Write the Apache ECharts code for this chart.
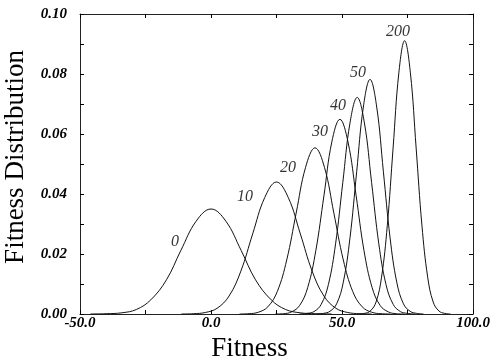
<!DOCTYPE html>
<html>
<head>
<meta charset="utf-8">
<script src="https://cdn.jsdelivr.net/npm/echarts@6/dist/echarts.min.js"></script>
<style>
  html, body { margin: 0; padding: 0; background: #fff; }
  #plot { width: 491px; height: 364px; }
</style>
</head>
<body>
<div id="plot"></div>
<script>
// fitness distributions, one [fitness, density] list per curve
var curve0 = [[-46, 0], [-40, 0.0001], [-34, 0.0004], [-28.5, 0.0015], [-23, 0.0047], [-17, 0.0114], [-11.5, 0.0212], [-5.7, 0.0309], [0, 0.035],
  [5.7, 0.0309], [11.5, 0.0212], [17, 0.0114], [23, 0.0047], [28.5, 0.0015], [34, 0.0004], [40, 0.0001], [46, 0]];
var curve10 = [[-11.3, 0], [-6.7, 0.0001], [-2.2, 0.0005], [2.3, 0.0019], [6.9, 0.006], [11.4, 0.0143], [15.9, 0.0267], [20.5, 0.0388], [25, 0.044],
  [29.5, 0.0388], [34.1, 0.0267], [38.6, 0.0143], [43.1, 0.006], [47.7, 0.0019], [52.2, 0.0005], [56.7, 0.0001], [61.3, 0]];
var curve20 = [[10.9, 0], [14.5, 0.0001], [18.1, 0.0006], [21.7, 0.0024], [25.3, 0.0075], [28.9, 0.018], [32.5, 0.0336], [36.1, 0.0489], [39.7, 0.0554],
  [43.3, 0.0489], [46.9, 0.0336], [50.5, 0.018], [54.1, 0.0075], [57.7, 0.0024], [61.3, 0.0006], [64.9, 0.0001], [68.5, 0]];
var curve30 = [[24.6, 0], [27.7, 0.0001], [30.7, 0.0007], [33.8, 0.0028], [36.9, 0.0088], [40.0, 0.0211], [43.1, 0.0394], [46.1, 0.0573], [49.2, 0.0649],
  [52.3, 0.0573], [55.4, 0.0394], [58.4, 0.0211], [61.5, 0.0088], [64.6, 0.0028], [67.7, 0.0007], [70.7, 0.0001], [73.8, 0]];
var curve40 = [[33.8, 0], [36.55, 0.0002], [39.3, 0.0008], [42.05, 0.0032], [44.8, 0.0098], [47.55, 0.0234], [50.3, 0.0438], [53.05, 0.0637], [55.8, 0.0722],
  [58.55, 0.0637], [61.3, 0.0438], [64.05, 0.0234], [66.8, 0.0098], [69.55, 0.0032], [72.3, 0.0008], [75.05, 0.0002], [77.8, 0]];
var curve50 = [[40.3, 0], [42.85, 0.0002], [45.4, 0.0009], [47.95, 0.0034], [50.5, 0.0106], [53.05, 0.0254], [55.6, 0.0474], [58.15, 0.069], [60.7, 0.0782],
  [63.25, 0.069], [65.8, 0.0474], [68.35, 0.0254], [70.9, 0.0106], [73.45, 0.0034], [76.0, 0.0009], [78.55, 0.0002], [81.1, 0]];
var curve200 = [[56.4, 0], [58.6, 0.0002], [60.8, 0.001], [63.0, 0.004], [65.1, 0.0123], [67.3, 0.0296], [69.5, 0.0553], [71.7, 0.0804], [73.9, 0.0911],
  [76.1, 0.0804], [78.3, 0.0553], [80.5, 0.0296], [82.7, 0.0123], [84.8, 0.004], [87.0, 0.001], [89.2, 0.0002], [91.4, 0]];

// curve labels (generation) and where they sit
var curveNames = ['0', '10', '20', '30', '40', '50', '200'];
var labelX = [-13.7, 13.0, 29.4, 41.6, 48.5, 56.1, 71.4];
var labelY = [0.024, 0.039, 0.0487, 0.0607, 0.0693, 0.0803, 0.094];

var xTicks = { min: -50, max: 100, step: 25 };
var yTicks = { min: 0, max: 0.1, step: 0.01 };

var chart = echarts.init(document.getElementById('plot'));

var serif = '"Liberation Serif", "DejaVu Serif", serif';
var ink = '#000';

var curves = [curve0, curve10, curve20, curve30, curve40, curve50, curve200];
var series = curves.map(function (c, i) {
  return {
    name: curveNames[i],
    type: 'line',
    data: c,
    smooth: 0.4,
    showSymbol: false,
    silent: true,
    lineStyle: { color: '#111', width: 1 }
  };
});

series.push({
  type: 'scatter',
  symbolSize: 0,
  silent: true,
  data: curveNames.map(function (n, i) { return { name: n, value: [labelX[i], labelY[i]] }; }),
  label: {
    show: true,
    position: 'inside',
    formatter: '{b}',
    fontFamily: serif,
    fontStyle: 'italic',
    fontSize: 16,
    color: ink
  }
});

var tickStyle = { inside: true, length: 4, lineStyle: { color: ink, width: 1 } };
var axisLine = { show: true, onZero: false, lineStyle: { color: '#222', width: 1 } };

var option = {
  animation: false,
  grid: { left: 80, top: 14, right: 18, bottom: 50, outerBoundsMode: 'none' },
  xAxis: [{
    type: 'value',
    min: xTicks.min, max: xTicks.max, interval: xTicks.step,
    splitLine: { show: false },
    axisLine: axisLine,
    axisTick: tickStyle,
    axisLabel: {
      margin: 2,
      fontFamily: serif, fontStyle: 'italic', fontWeight: 'bold', fontSize: 15, color: ink,
      formatter: function (v) { return v % 50 === 0 ? v.toFixed(1) : ''; }
    },
    name: 'Fitness',
    nameLocation: 'middle',
    nameGap: 10,
    nameTextStyle: { fontFamily: serif, fontSize: 27, color: ink, padding: [0, 54, 0, 0] }
  }, {
    type: 'value', position: 'top',
    min: xTicks.min, max: xTicks.max, interval: xTicks.step,
    splitLine: { show: false },
    axisLine: axisLine,
    axisTick: tickStyle,
    axisLabel: { show: false }
  }],
  yAxis: [{
    type: 'value', position: 'left',
    min: yTicks.min, max: yTicks.max, interval: yTicks.step,
    splitLine: { show: false },
    axisLine: axisLine,
    axisTick: tickStyle,
    axisLabel: {
      margin: 13,
      fontFamily: serif, fontStyle: 'italic', fontWeight: 'bold', fontSize: 15, color: ink,
      formatter: function (v) { return Math.round(v * 100) % 2 === 0 ? v.toFixed(2) : ''; }
    },
    name: 'Fitness Distribution',
    nameLocation: 'middle',
    nameRotate: 90,
    nameGap: 46,
    nameTextStyle: { fontFamily: serif, fontSize: 27, color: ink, padding: [0, 0, 0, 14] }
  }, {
    type: 'value', position: 'right',
    min: yTicks.min, max: yTicks.max, interval: yTicks.step,
    splitLine: { show: false },
    axisLine: axisLine,
    axisTick: tickStyle,
    axisLabel: { show: false }
  }],
  series: series
};

chart.setOption(option);
</script>
</body>
</html>
